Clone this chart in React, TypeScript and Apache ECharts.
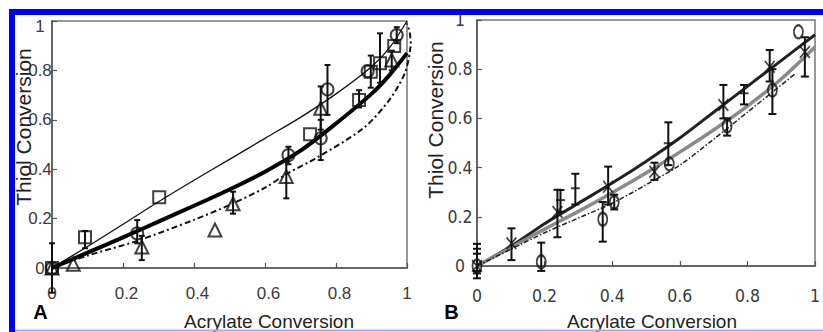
import React, { useEffect, useRef } from 'react';
import * as echarts from 'echarts';

// ---------- Panel A data ----------
const axisTicks = [0, 0.2, 0.4, 0.6, 0.8, 1];

const curveAThin = [[0, 0], [0.1, 0.087], [0.2, 0.177], [0.3, 0.268], [0.4, 0.355], [0.5, 0.44], [0.6, 0.525], [0.7, 0.61], [0.8, 0.705], [0.9, 0.815], [0.95, 0.89], [1, 1]];
const curveAThick = [[0, 0], [0.1, 0.062], [0.2, 0.124], [0.3, 0.188], [0.4, 0.252], [0.5, 0.318], [0.6, 0.39], [0.7, 0.475], [0.8, 0.585], [0.9, 0.705], [0.95, 0.78], [1, 0.87]];
const curveADashed = [[0, 0], [0.1, 0.05], [0.24, 0.11], [0.4, 0.195], [0.5, 0.255], [0.6, 0.325], [0.66, 0.38], [0.75, 0.45], [0.877, 0.566], [0.95, 0.68], [0.994, 0.79], [1.01, 0.896], [1.008, 0.95], [1.0, 0.99]];

const squaresA = [[0, 0], [0.093, 0.124], [0.302, 0.286], [0.727, 0.541], [0.865, 0.68], [0.898, 0.795], [0.924, 0.829], [0.964, 0.899]];
const circlesA = [[0, 0], [0.24, 0.14], [0.666, 0.457], [0.757, 0.525], [0.776, 0.723], [0.889, 0.797], [0.971, 0.943]];
const trianglesA = [[0, 0], [0.06, 0.015], [0.253, 0.085], [0.459, 0.154], [0.51, 0.26], [0.66, 0.37], [0.757, 0.647], [0.957, 0.842]];
// [x, low, high]
const errorsA = [
  [0, -0.1, 0.1], [0.093, 0.08, 0.15], [0.24, 0.1, 0.194], [0.253, 0.032, 0.13], [0.51, 0.22, 0.309],
  [0.666, 0.42, 0.491], [0.66, 0.282, 0.43], [0.757, 0.437, 0.6], [0.757, 0.56, 0.735], [0.776, 0.62, 0.822],
  [0.865, 0.65, 0.72], [0.898, 0.73, 0.86], [0.924, 0.75, 0.95], [0.957, 0.8, 0.88], [0.971, 0.91, 0.975],
];

// ---------- Panel B data ----------
const curveBDark = [[0, 0], [0.1, 0.08], [0.2, 0.172], [0.3, 0.255], [0.4, 0.337], [0.5, 0.425], [0.6, 0.52], [0.7, 0.625], [0.8, 0.73], [0.9, 0.835], [1, 0.94]];
const curveBGrey = [[0, 0], [0.1, 0.075], [0.2, 0.15], [0.3, 0.222], [0.4, 0.298], [0.5, 0.378], [0.6, 0.463], [0.7, 0.553], [0.8, 0.65], [0.9, 0.76], [1, 0.89]];
const curveBDashDot = [[0, 0], [0.1, 0.068], [0.2, 0.135], [0.3, 0.195], [0.4, 0.255], [0.5, 0.33], [0.6, 0.41], [0.7, 0.515], [0.8, 0.625], [0.94, 0.78]];

const crossesB = [[0, 0], [0.102, 0.092], [0.238, 0.22], [0.388, 0.322], [0.525, 0.383], [0.729, 0.654], [0.866, 0.81], [0.97, 0.87]];
const circlesB = [[0, 0], [0.19, 0.017], [0.372, 0.19], [0.406, 0.259], [0.569, 0.415], [0.74, 0.569], [0.874, 0.715], [0.951, 0.952]];
const plusB = [[0.247, 0.268], [0.291, 0.316], [0.566, 0.499], [0.79, 0.702]];
const errorsB = [
  [0, -0.05, 0.09], [0, -0.03, 0.07], [0, -0.02, 0.05],
  [0.102, 0.024, 0.153], [0.238, 0.117, 0.31], [0.388, 0.25, 0.404], [0.525, 0.35, 0.42], [0.729, 0.6, 0.736], [0.866, 0.75, 0.878], [0.97, 0.77, 0.93],
  [0.19, -0.02, 0.095], [0.372, 0.099, 0.26], [0.406, 0.23, 0.29], [0.74, 0.53, 0.6], [0.874, 0.618, 0.8],
  [0.247, 0.22, 0.309], [0.291, 0.25, 0.375], [0.566, 0.41, 0.584], [0.79, 0.657, 0.736],
];

const FONT = '"Liberation Sans", Arial, Helvetica, sans-serif';
const NARROW = '"Liberation Sans Narrow", "DejaVu Sans Condensed", "Liberation Sans", sans-serif';

const fmt = (v: number) => String(+v.toFixed(1));

function errorBars(data: number[][], idx: number, capHalf: number, width: number) {
  return {
    type: 'custom',
    xAxisIndex: idx,
    yAxisIndex: idx,
    clip: false,
    z: 3,
    data,
    encode: { x: 0, y: [1, 2] },
    renderItem: (_p: any, api: any) => {
      const x = api.value(0);
      const lo = api.coord([x, api.value(1)]);
      const hi = api.coord([x, api.value(2)]);
      const style = { stroke: '#111', lineWidth: width };
      return {
        type: 'group',
        children: [
          { type: 'line', shape: { x1: lo[0], y1: lo[1], x2: hi[0], y2: hi[1] }, style },
          { type: 'line', shape: { x1: lo[0] - capHalf, y1: lo[1], x2: lo[0] + capHalf, y2: lo[1] }, style },
          { type: 'line', shape: { x1: hi[0] - capHalf, y1: hi[1], x2: hi[0] + capHalf, y2: hi[1] }, style },
        ],
      };
    },
  };
}

// Whole curve drawn as one unclipped polyline (the dashed model curve bulges past x = 1)
function curveSeries(data: number[][], idx: number, lineStyle: any) {
  return {
    type: 'custom',
    xAxisIndex: idx,
    yAxisIndex: idx,
    clip: false,
    z: 2,
    data,
    encode: { x: 0, y: 1 },
    renderItem: (p: any, api: any) => {
      if (p.dataIndex !== 0) return null;
      const pts = data.map((d) => api.coord(d));
      return {
        type: 'polyline',
        shape: { points: pts, smooth: 0.3 },
        style: { fill: null, ...lineStyle },
      };
    },
  };
}

function makeAxis(idx: number, label: any) {
  return {
    gridIndex: idx,
    type: 'value',
    min: axisTicks[0],
    max: axisTicks[axisTicks.length - 1],
    interval: 0.2,
    axisLine: { show: true, onZero: false, lineStyle: { color: '#555', width: 1.5 } },
    axisTick: { show: true, inside: true, length: 5, lineStyle: { color: '#555', width: 1.2 } },
    splitLine: { show: false },
    axisLabel: { showMinLabel: true, showMaxLabel: true, ...label },
  };
}

const hollow = { color: 'rgba(0,0,0,0)', borderColor: '#111', borderWidth: 2 };
const crossPath = 'path://M0,1L1,0L5,4L9,0L10,1L6,5L10,9L9,10L5,6L1,10L0,9L4,5Z';
const LBL = '#3a3a3a';

const option: any = {
  animation: false,
  backgroundColor: '#fff',
  grid: [
    { left: 52, top: 21, width: 355, height: 247, show: true, borderColor: '#777', borderWidth: 1.5 },
    { left: 477, top: 20, width: 355, height: 246, show: true, borderColor: '#777', borderWidth: 1.5 },
  ],
  xAxis: [
    makeAxis(0, {
      margin: 17, fontSize: 17, color: LBL, fontFamily: FONT,
      formatter: (v: number) => (v === 0 || v === 1 ? fmt(v) : '{s|' + fmt(v) + '}'),
      rich: { s: { padding: [0, 0, 0, 7], fontSize: 17, color: LBL, fontFamily: FONT } },
    }),
    makeAxis(1, { margin: 21, fontSize: 17.5, color: LBL, fontFamily: NARROW, formatter: fmt }),
  ],
  yAxis: [
    makeAxis(0, {
      margin: 12, align: 'center', fontSize: 17, color: LBL, fontFamily: FONT,
      formatter: (v: number) => (v === 1 ? '{one|1}' : fmt(v)),
      rich: { one: { padding: [10, 0, 0, 0], fontSize: 17, color: LBL, fontFamily: FONT } },
    }),
    makeAxis(1, { margin: 17, align: 'center', fontSize: 17.5, color: LBL, fontFamily: NARROW, formatter: fmt }),
  ],
  series: [
    // Panel A curves
    curveSeries(curveAThin, 0, { stroke: '#111', lineWidth: 1.3 }),
    curveSeries(curveAThick, 0, { stroke: '#000', lineWidth: 4 }),
    curveSeries(curveADashed, 0, { stroke: '#111', lineWidth: 2, lineDash: [6, 3, 2, 3] }),
    errorBars(errorsA, 0, 3, 2),
    { type: 'scatter', xAxisIndex: 0, yAxisIndex: 0, data: squaresA, symbol: 'rect', symbolSize: 12, z: 4, itemStyle: hollow },
    { type: 'scatter', xAxisIndex: 0, yAxisIndex: 0, data: circlesA, symbol: 'circle', symbolSize: 12, z: 4, itemStyle: hollow },
    { type: 'scatter', xAxisIndex: 0, yAxisIndex: 0, data: trianglesA, symbol: 'triangle', symbolSize: 13, z: 4, itemStyle: hollow },
    // Panel B curves
    curveSeries(curveBDark, 1, { stroke: '#222', lineWidth: 3 }),
    curveSeries(curveBGrey, 1, { stroke: '#8a8a8a', lineWidth: 3.5 }),
    curveSeries(curveBDashDot, 1, { stroke: '#222', lineWidth: 1.5, lineDash: [5, 2, 1.5, 2] }),
    errorBars(errorsB, 1, 4, 2),
    { type: 'scatter', xAxisIndex: 1, yAxisIndex: 1, data: crossesB, symbol: crossPath, symbolSize: [11, 13], z: 4, itemStyle: { color: '#111' } },
    { type: 'scatter', xAxisIndex: 1, yAxisIndex: 1, data: circlesB, symbol: 'circle', symbolSize: [9, 13], z: 4, itemStyle: hollow },
    { type: 'scatter', xAxisIndex: 1, yAxisIndex: 1, data: plusB, symbol: 'rect', symbolSize: [9, 2], z: 4, itemStyle: { color: '#111' } },
  ],
  graphic: [
    { type: 'text', x: 23, y: 127, rotation: Math.PI / 2, z: 10, style: { text: 'Thiol Conversion', fontSize: 21, fontFamily: FONT, fill: '#222', align: 'center', verticalAlign: 'middle' } },
    { type: 'text', x: 435, y: 120, rotation: Math.PI / 2, z: 10, style: { text: 'Thiol Conversion', fontSize: 21, fontFamily: FONT, fill: '#222', align: 'center', verticalAlign: 'middle' } },
    { type: 'text', x: 269, y: 321, z: 10, style: { text: 'Acrylate Conversion', fontSize: 19, fontFamily: FONT, fill: '#222', align: 'center', verticalAlign: 'middle' } },
    { type: 'text', x: 652, y: 321, z: 10, style: { text: 'Acrylate Conversion', fontSize: 19, fontFamily: FONT, fill: '#222', align: 'center', verticalAlign: 'middle' } },
    { type: 'text', x: 40.5, y: 312, z: 10, style: { text: 'A', fontSize: 20, fontWeight: 'bold', fontFamily: FONT, fill: '#000', align: 'center', verticalAlign: 'middle' } },
    { type: 'text', x: 451.5, y: 311.5, z: 10, style: { text: 'B', fontSize: 20, fontWeight: 'bold', fontFamily: FONT, fill: '#000', align: 'center', verticalAlign: 'middle' } },
    // blue frame
    { type: 'rect', z: 20, shape: { x: 9, y: 9, width: 814, height: 6 }, style: { fill: '#0000ff' } },
    { type: 'rect', z: 20, shape: { x: 9, y: 9, width: 6, height: 323 }, style: { fill: '#0000ff' } },
    { type: 'rect', z: 20, shape: { x: 15, y: 329.5, width: 808, height: 2 }, style: { fill: '#a8a8ff' } },
  ],
};

export default function App() {
  const ref = useRef<HTMLDivElement>(null);
  useEffect(() => {
    document.body.style.margin = '0';
    const chart = echarts.init(ref.current!, null, { renderer: 'svg' });
    chart.setOption(option);
    return () => chart.dispose();
  }, []);
  return <div ref={ref} style={{ position: 'absolute', left: 0, top: 0, width: 823, height: 332, background: '#fff' }} />;
}
